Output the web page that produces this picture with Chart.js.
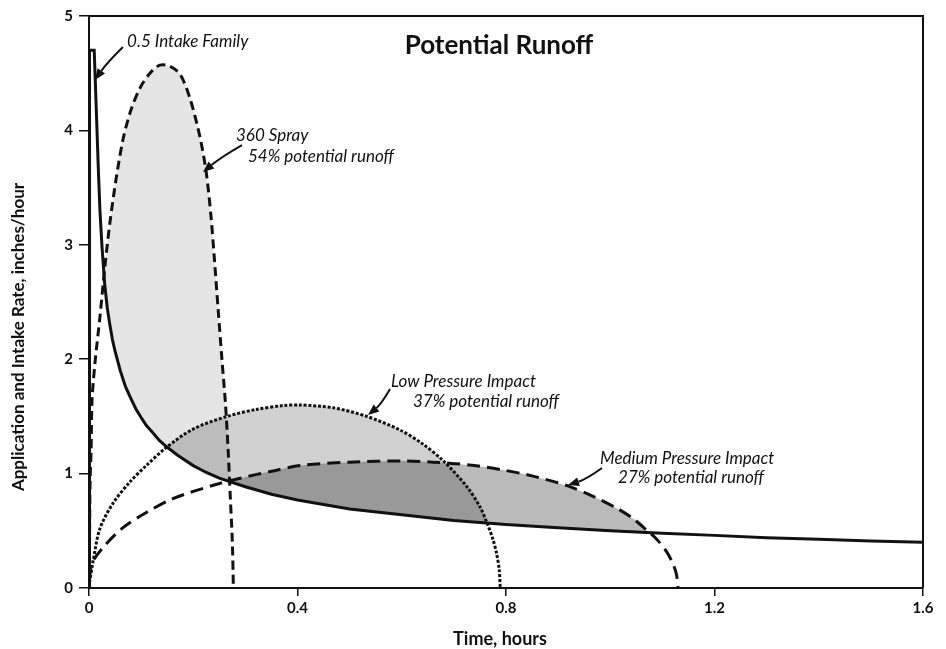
<!DOCTYPE html>
<html>
<head>
<meta charset="utf-8" />
<title>Potential Runoff</title>
<script src="https://cdn.jsdelivr.net/npm/chart.js"></script>
<style>
  html, body { margin: 0; background: #fff; }
  #wrap { width: 946px; height: 649px; }
</style>
</head>
<body>
<div id="wrap"><canvas id="runoff" width="946" height="649"></canvas></div>
<script>
// values (time in hours, rate in inches/hour)
const intakeTime = [0.001, 0.001, 0.01, 0.014, 0.018, 0.021, 0.025, 0.03, 0.035, 0.04, 0.045, 0.05, 0.06, 0.07, 0.08, 0.09, 0.1, 0.11, 0.12, 0.135, 0.15, 0.17, 0.2, 0.225, 0.25, 0.3, 0.35, 0.4, 0.5, 0.6, 0.7, 0.8, 0.9, 1.0, 1.1, 1.2, 1.3, 1.4, 1.5, 1.6];
const intakeRate = [0, 4.7, 4.7, 4.18, 3.65, 3.3, 2.98, 2.66, 2.45, 2.3, 2.17, 2.07, 1.9, 1.76, 1.66, 1.565, 1.49, 1.42, 1.37, 1.29, 1.23, 1.16, 1.07, 1.01, 0.96, 0.885, 0.82, 0.77, 0.69, 0.64, 0.59, 0.556, 0.526, 0.5, 0.478, 0.46, 0.44, 0.426, 0.41, 0.4];

const sprayTime = [0, 0.001, 0.002, 0.004, 0.0058, 0.0115, 0.021, 0.0307, 0.0403, 0.0518, 0.0652, 0.0806, 0.0978, 0.117, 0.136, 0.155, 0.175, 0.195, 0.213, 0.225, 0.234, 0.241, 0.248, 0.255, 0.262, 0.267, 0.271, 0.275, 0.277];
const sprayRate = [0, 0.4, 0.92, 1.2, 1.64, 1.97, 2.37, 2.82, 3.2, 3.57, 3.92, 4.18, 4.37, 4.5, 4.57, 4.56, 4.49, 4.26, 3.94, 3.63, 3.25, 2.85, 2.42, 2.0, 1.6, 1.2, 0.8, 0.4, 0];

const lowTime = [0.001, 0.008, 0.021, 0.046, 0.079, 0.11, 0.146, 0.2, 0.265, 0.32, 0.373, 0.405, 0.469, 0.533, 0.597, 0.64, 0.68, 0.725, 0.75, 0.763, 0.775, 0.782, 0.787, 0.789];
const lowRate = [0.05, 0.24, 0.52, 0.74, 0.93, 1.07, 1.22, 1.39, 1.5, 1.56, 1.595, 1.6, 1.575, 1.5, 1.38, 1.26, 1.11, 0.885, 0.71, 0.575, 0.425, 0.3, 0.16, 0];

const mediumTime = [0.001, 0.006, 0.03, 0.066, 0.11, 0.16, 0.24, 0.29, 0.35, 0.405, 0.5, 0.6, 0.66, 0.73, 0.79, 0.85, 0.92, 0.97, 1.013, 1.045, 1.07, 1.09, 1.108, 1.12, 1.127, 1.13];
const mediumRate = [0.08, 0.22, 0.37, 0.53, 0.66, 0.78, 0.9, 0.96, 1.02, 1.07, 1.1, 1.11, 1.1, 1.075, 1.035, 0.98, 0.89, 0.795, 0.696, 0.603, 0.505, 0.422, 0.318, 0.215, 0.12, 0];

const xTicks = [0, 0.4, 0.8, 1.2, 1.6];
const yTicks = [0, 1, 2, 3, 4, 5];

const pts = (ts, vs) => ts.map((t, i) => ({ x: t, y: vs[i] }));
const ink = '#111';
const face = 'Lato';

// labels and arrows, placed in data units
const notes = [
  { text: '0.5 Intake Family', t: 0.073, v: 4.73 },
  { text: '360 Spray', t: 0.282, v: 3.907 },
  { text: '54% potential runoff', t: 0.305, v: 3.724 },
  { text: 'Low Pressure Impact', t: 0.5794, v: 1.757 },
  { text: '37% potential runoff', t: 0.6216, v: 1.582 },
  { text: 'Medium Pressure Impact', t: 0.9803, v: 1.084 },
  { text: '27% potential runoff', t: 1.0149, v: 0.918 }
];
const arrows = [
  { from: [0.0652, 4.729], to: [0.0115, 4.441], bend: 2 },
  { from: [0.2935, 3.872], to: [0.2187, 3.636], bend: 2 },
  { from: [0.5775, 1.740], to: [0.5353, 1.512], bend: -3 },
  { from: [0.9842, 1.049], to: [0.919, 0.900], bend: -3 }
];

function drawArrow(ctx, x0, y0, x1, y1, bend) {
  const dx = x1 - x0, dy = y1 - y0, len = Math.hypot(dx, dy);
  const cx = (x0 + x1) / 2 - dy / len * bend, cy = (y0 + y1) / 2 + dx / len * bend;
  const ang = Math.atan2(y1 - cy, x1 - cx);
  const head = 11, hw = 4.5;
  const bx = x1 - head * Math.cos(ang), by = y1 - head * Math.sin(ang);
  ctx.lineWidth = 2;
  ctx.beginPath(); ctx.moveTo(x0, y0); ctx.quadraticCurveTo(cx, cy, bx, by); ctx.stroke();
  ctx.beginPath();
  ctx.moveTo(x1, y1);
  ctx.lineTo(bx + hw * Math.sin(ang), by - hw * Math.cos(ang));
  ctx.lineTo(bx - hw * Math.sin(ang), by + hw * Math.cos(ang));
  ctx.closePath(); ctx.fill();
}

const overlay = {
  id: 'overlay',
  afterDraw(chart) {
    const { ctx, chartArea: a, scales: { x, y } } = chart;
    const px = t => x.getPixelForValue(t), py = v => y.getPixelForValue(v);
    ctx.save();
    ctx.strokeStyle = ink; ctx.fillStyle = ink; ctx.lineWidth = 2;
    ctx.beginPath();
    ctx.moveTo(a.left, a.top); ctx.lineTo(a.right, a.top); ctx.lineTo(a.right, a.bottom);
    ctx.stroke();

    ctx.font = `bold 26px ${face}`;
    ctx.textAlign = 'center'; ctx.textBaseline = 'alphabetic';
    ctx.fillText('Potential Runoff', px(0.7866), py(4.668));

    ctx.font = `italic 17px ${face}`;
    ctx.textAlign = 'left';
    notes.forEach(n => ctx.fillText(n.text, px(n.t), py(n.v)));
    arrows.forEach(r => drawArrow(ctx, px(r.from[0]), py(r.from[1]), px(r.to[0]), py(r.to[1]), r.bend));

    // axis titles
    ctx.textAlign = 'center'; ctx.textBaseline = 'middle';
    ctx.font = `bold 18px ${face}`;
    ctx.fillText('Time, hours', 500, 639);
    ctx.translate(19, 337);
    ctx.rotate(-Math.PI / 2);
    ctx.font = `bold 17px ${face}`;
    ctx.fillText('Application and Intake Rate, inches/hour', 0, 0);
    ctx.restore();
  }
};

new Chart(document.getElementById('runoff'), {
  type: 'line',
  data: {
    datasets: [
      { label: 'Intake', data: pts(intakeTime, intakeRate), borderColor: ink, borderWidth: 3, tension: 0, fill: false },
      { label: '360 Spray', data: pts(sprayTime, sprayRate), borderColor: ink, borderWidth: 3, borderDash: [9, 5], tension: 0.3,
        fill: { target: 0, above: 'rgba(0,0,0,0.1)', below: 'rgba(0,0,0,0)' } },
      { label: 'Low Pressure Impact', data: pts(lowTime, lowRate), borderColor: ink, borderWidth: 3, borderDash: [3, 1.8], tension: 0.3,
        fill: { target: 0, above: 'rgba(0,0,0,0.18)', below: 'rgba(0,0,0,0)' } },
      { label: 'Medium Pressure Impact', data: pts(mediumTime, mediumRate), borderColor: ink, borderWidth: 3, borderDash: [13, 7], tension: 0.3,
        fill: { target: 0, above: 'rgba(0,0,0,0.27)', below: 'rgba(0,0,0,0)' } }
    ]
  },
  options: {
    responsive: false,
    animation: false,
    devicePixelRatio: 1,
    layout: { padding: { left: 0, right: 23, top: 16, bottom: 0 } },
    elements: { point: { radius: 0, hoverRadius: 0 } },
    plugins: {
      legend: { display: false },
      tooltip: { enabled: false },
      filler: { propagate: false, drawTime: 'beforeDatasetsDraw' }
    },
    scales: {
      x: {
        type: 'linear', min: 0, max: 1.6,
        afterBuildTicks: s => { s.ticks = xTicks.map(v => ({ value: v })); },
        afterFit: s => { s.height = 61; },
        border: { display: true, color: ink, width: 2 },
        grid: { drawOnChartArea: false, drawTicks: true, tickLength: 8, color: ink, lineWidth: 1.5 },
        ticks: { color: ink, padding: 3, font: { family: face, weight: 'bold', size: 15 },
          callback: v => v === 0 ? '0' : v.toFixed(1) }
      },
      y: {
        min: 0, max: 5,
        afterBuildTicks: s => { s.ticks = yTicks.map(v => ({ value: v })); },
        afterFit: s => { s.width = 89; },
        border: { display: true, color: ink, width: 2 },
        grid: { drawOnChartArea: false, drawTicks: true, tickLength: 10, color: ink, lineWidth: 1.5 },
        ticks: { color: ink, padding: 6, font: { family: face, weight: 'bold', size: 15 } }
      }
    }
  },
  plugins: [overlay]
});
</script>
</body>
</html>
